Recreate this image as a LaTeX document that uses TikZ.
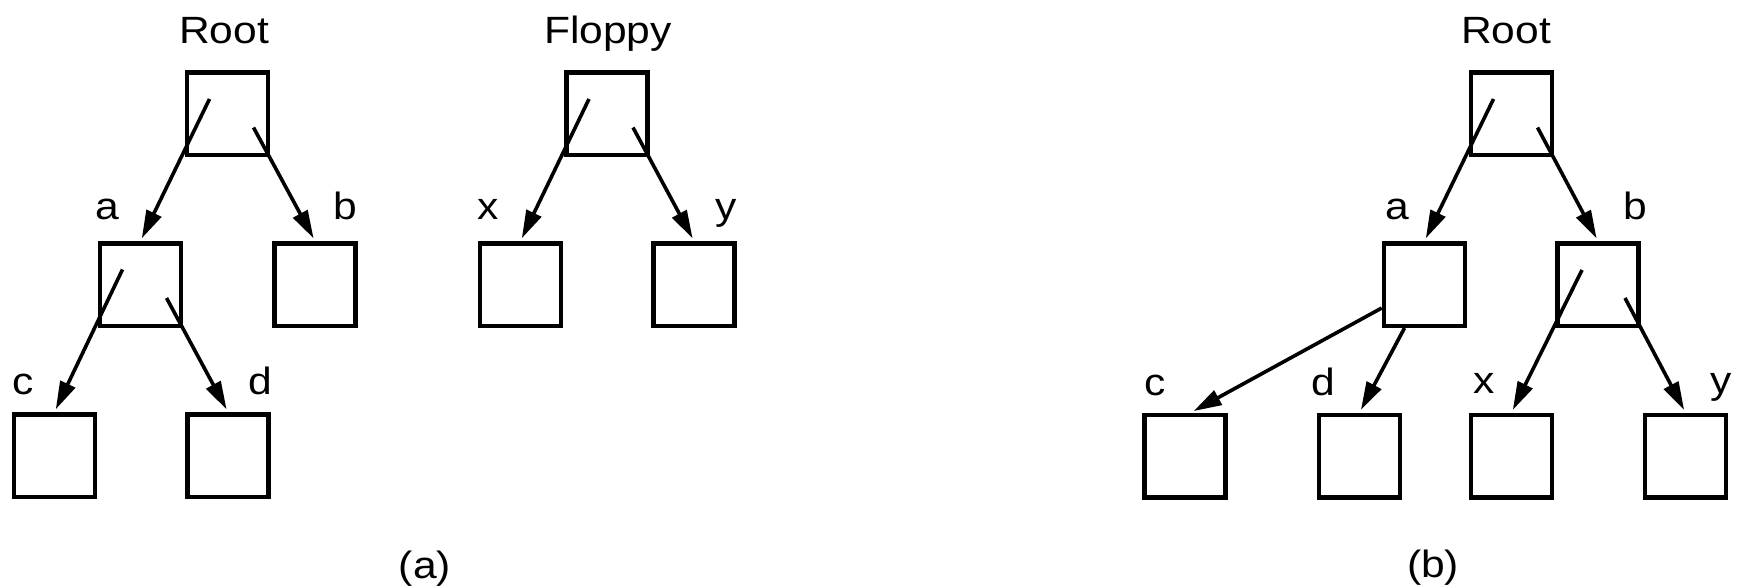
\documentclass[tikz,border=0pt]{standalone}
\usepackage{fontspec}
\setmainfont{Liberation Sans}[FakeStretch=1.12]
\usetikzlibrary{arrows.meta,calc}

\begin{document}
\begin{tikzpicture}[x=1pt,y=-1pt,
  dirbox/.style={draw,line width=4.5pt,minimum width=81pt,minimum height=82.5pt,inner sep=0pt},
  lbl/.style={anchor=base,inner sep=0pt,font=\fontsize{38}{40}\selectfont},
  link/.style={line width=3.6pt,shorten >=3pt,-{Triangle[length=28pt,width=16pt]}},
]
\useasboundingbox (0,0) rectangle (1740,588);

% ---- (a): two separate file systems ----
\node[dirbox] (rootA) at (227.5,114) {};
\node[dirbox] (aA) at (140.5,284.5) {};
\node[dirbox] (bA) at (315,284.5) {};
\node[dirbox] (cA) at (54.5,455.5) {};
\node[dirbox] (dA) at (228,455.5) {};

\node[dirbox] (flop) at (607,114) {};
\node[dirbox] (xA) at (520.5,284.5) {};
\node[dirbox] (yA) at (694,284.5) {};

\node[lbl] (tRootA) at (224,44) {Root};
\node[lbl] (tFlop) at (608,44) {Floppy};
\node[lbl] (taA) at (107,220) {a};
\node[lbl] (tbA) at (345,220) {b};
\node[lbl] (tcA) at (23,394) {c};
\node[lbl] (tdA) at (260,394) {d};
\node[lbl] (txA) at (488,220) {x};
\node[lbl] (tyA) at (726,220) {y};
\node[lbl] (capA) at (425,578) {(a)};

\draw[link] ($(rootA.center)+(-18,-15)$) -- (aA.north);
\draw[link] ($(rootA.center)+(26,13.5)$) -- (bA.north);
\draw[link] ($(aA.center)+(-18,-15)$) -- (cA.north);
\draw[link] ($(aA.center)+(26,13.5)$) -- (dA.north);
\draw[link] ($(flop.center)+(-18,-15)$) -- (xA.north);
\draw[link] ($(flop.center)+(26,13.5)$) -- (yA.north);

% ---- (b): floppy mounted on b ----
\node[dirbox] (rootB) at (1511.5,114) {};
\node[dirbox] (aB) at (1424.5,284.5) {};
\node[dirbox] (bB) at (1598,284.5) {};
\node[dirbox] (cB) at (1185,456) {};
\node[dirbox] (dB) at (1359.5,456) {};
\node[dirbox] (xB) at (1511.5,456) {};
\node[dirbox] (yB) at (1685.5,456) {};

\node[lbl] (tRootB) at (1506,44) {Root};
\node[lbl] (taB) at (1397,220) {a};
\node[lbl] (tbB) at (1635,220) {b};
\node[lbl] (tcB) at (1155,395) {c};
\node[lbl] (tdB) at (1323,395) {d};
\node[lbl] (txB) at (1484,393) {x};
\node[lbl] (tyB) at (1721,393) {y};
\node[lbl] (capB) at (1433,577) {(b)};

\draw[link] ($(rootB.center)+(-18,-15)$) -- (aB.north);
\draw[link] ($(rootB.center)+(26,13.5)$) -- (bB.north);
\draw[link] ($(aB.west)+(0,23.5)$) -- ($(cB.north)+(6,0)$);
\draw[link] ($(aB.south)+(-20,0)$) -- (dB.north);
\draw[link] ($(bB.center)+(-16,-14.5)$) -- (xB.north);
\draw[link] ($(bB.center)+(27,13.5)$) -- (yB.north);
\end{tikzpicture}
\end{document}
